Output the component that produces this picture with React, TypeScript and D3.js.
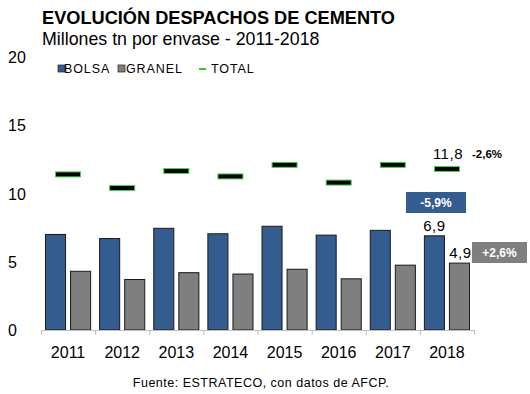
import React from 'react';
import * as d3 from 'd3';

const years = ['2011', '2012', '2013', '2014', '2015', '2016', '2017', '2018'];
const bolsa = [7.0, 6.7, 7.45, 7.05, 7.6, 6.95, 7.3, 6.9];
const granel = [4.3, 3.7, 4.2, 4.1, 4.45, 3.75, 4.75, 4.9];
const total = [11.4, 10.4, 11.65, 11.25, 12.1, 10.8, 12.1, 11.8];
const yTicks = [0, 5, 10, 15, 20];
const seriesKeys = ['BOLSA', 'GRANEL'];

const W = 530;
const H = 394;
const font = 'Liberation Sans, Arial, sans-serif';
const blue = '#345c8f';
const gray = '#7f7f7f';

export default function App() {
  const x = d3.scaleBand().domain(years).range([41, 474]);
  const bw = x.bandwidth();
  const x1 = d3.scaleBand().domain(seriesKeys).range([4.5, bw - 4.5]).paddingInner(0.2);
  const y = d3.scaleLinear().domain([0, 20]).range([330, 57]);
  const fmt = (v: number) => d3.format('.1f')(v).replace('.', ',');

  const last = years.length - 1;
  const lx = x(years[last])!;

  return (
    <svg width={W} height={H} style={{ position: 'absolute', left: 0, top: 0 }} fontFamily={font}>
      <rect width={W} height={H} fill="#fff" />
      <text x={42} y={24} fontSize={18.2} fontWeight="bold" fill="#000">EVOLUCIÓN DESPACHOS DE CEMENTO</text>
      <text x={42} y={45} fontSize={17.8} fill="#000">Millones tn por envase - 2011-2018</text>

      {/* legend */}
      <g fontSize={12.5} fill="#000" letterSpacing={0.9}>
        <rect x={58} y={65} width={7} height={7} fill={blue} stroke="#222" strokeWidth={0.7} />
        <text x={64} y={73}>BOLSA</text>
        <rect x={118} y={65} width={7} height={7} fill={gray} stroke="#222" strokeWidth={0.7} />
        <text x={126} y={73}>GRANEL</text>
        <line x1={199} x2={206} y1={69} y2={69} stroke="#2ecc2e" strokeWidth={2} />
        <text x={211} y={73}>TOTAL</text>
      </g>

      {/* y labels */}
      {yTicks.map((t) => (
        <text key={t} x={8} y={y(t) + 6} fontSize={16} fill="#000">{t}</text>
      ))}

      {/* bars */}
      {years.map((yr, i) => (
        <g key={yr} transform={`translate(${x(yr)},0)`}>
          <rect x={x1('BOLSA')} y={y(bolsa[i])} width={x1.bandwidth()} height={y(0) - y(bolsa[i])} fill={blue} stroke="#1a1a1a" strokeWidth={1} />
          <rect x={x1('GRANEL')} y={y(granel[i])} width={x1.bandwidth()} height={y(0) - y(granel[i])} fill={gray} stroke="#1a1a1a" strokeWidth={1} />
          <rect x={bw / 2 - 12.5} y={y(total[i]) - 2.5} width={25} height={5} fill="#000" stroke="#4cd04c" strokeWidth={1} />
          <text x={bw / 2} y={358} textAnchor="middle" fontSize={16} fill="#000">{yr}</text>
        </g>
      ))}

      {/* x axis */}
      <line x1={41} x2={474} y1={330.5} y2={330.5} stroke="#bfbfbf" strokeWidth={1} />
      {years.map((yr) => (
        <line key={yr} x1={x(yr)! + 0.5} x2={x(yr)! + 0.5} y1={330} y2={335} stroke="#bfbfbf" />
      ))}
      <line x1={474.5} x2={474.5} y1={330} y2={335} stroke="#bfbfbf" />

      {/* annotations for last year */}
      <text x={lx + bw / 2 + 1} y={159} textAnchor="middle" fontSize={15} letterSpacing={0.5} fill="#000">{fmt(total[last])}</text>
      <text x={472} y={158} fontSize={11.5} fontWeight="bold" fill="#000">-2,6%</text>
      <text x={lx + x1('BOLSA')! + x1.bandwidth() / 2} y={231} textAnchor="middle" fontSize={15} letterSpacing={0.5} fill="#000">{fmt(bolsa[last])}</text>
      <text x={lx + x1('GRANEL')! + x1.bandwidth() / 2 + 1} y={258} textAnchor="middle" fontSize={15} letterSpacing={0.5} fill="#000">{fmt(granel[last])}</text>

      <rect x={406} y={192} width={60} height={21} fill={blue} />
      <text x={436} y={207} textAnchor="middle" fontSize={12} fontWeight="bold" fill="#fff">-5,9%</text>
      <rect x={472} y={242} width={55} height={21} fill={gray} />
      <text x={499.5} y={257} textAnchor="middle" fontSize={12} fontWeight="bold" fill="#fff">+2,6%</text>

      <text x={261} y={387} textAnchor="middle" fontSize={12.5} letterSpacing={0.5} fill="#000">Fuente: ESTRATECO, con datos de AFCP.</text>
    </svg>
  );
}
